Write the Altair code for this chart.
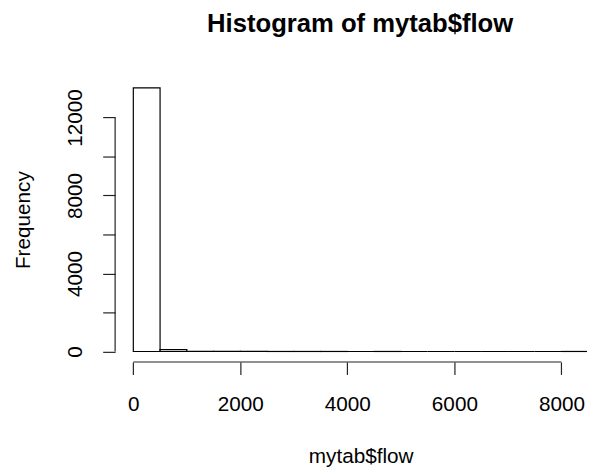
import altair as alt
import pandas as pd

# Histogram bins (width 500) and their counts
bin_starts = [0, 500, 1000, 1500, 2000, 2500, 3000, 3500, 4000, 4500, 5000,
              5500, 6000, 6500, 7000, 7500, 8000]
bin_width = 500
counts = [13512, 95, 5, 3, 2, 1, 1, 1, 0, 1, 0, 0, 0, 0, 0, 0, 1]

x_ticks = [0, 2000, 4000, 6000, 8000]
y_ticks = [0, 2000, 4000, 6000, 8000, 10000, 12000]
y_labeled_every = 4000

x_domain = [-340, 8478]
y_domain = [-540, 14040]

FONT = "Liberation Sans"
W, H = 478.4, 288.3

df = pd.DataFrame({
    "start": bin_starts,
    "end": [s + bin_width for s in bin_starts],
    "count": counts,
})

xs = alt.Scale(domain=x_domain, nice=False, zero=False)
ys = alt.Scale(domain=y_domain, nice=False, zero=False)

bars = alt.Chart(df).mark_rect(
    fill="white", stroke="black", strokeWidth=1.2, clip=True
).encode(
    x=alt.X("start:Q", scale=xs, axis=alt.Axis(
        values=x_ticks, format="d", domain=False, grid=False,
        tickSize=12.6, tickColor="#222", tickWidth=1.2,
        labelFont=FONT, labelFontSize=21, labelColor="black",
        labelBaseline="alphabetic", labelPadding=36.7, labelAngle=0,
        labelFlush=False, labelOverlap=False,
        title="mytab$flow", titleFont=FONT, titleFontSize=21,
        titleFontWeight="normal", titleColor="black",
        titleBaseline="alphabetic", titleAnchor="middle",
        titleX=249, titleY=102.3)),
    x2="end:Q",
    y=alt.Y("count:Q", scale=ys, axis=alt.Axis(
        values=y_ticks, format="d", domain=False, grid=False,
        tickSize=12.6, tickColor="#222", tickWidth=1.2,
        labelFont=FONT, labelFontSize=21, labelColor="black",
        labelAngle=270, labelAlign="center", labelBaseline="alphabetic",
        labelPadding=21, labelFlush=False, labelOverlap=False,
        labelExpr=f"datum.value % {y_labeled_every} == 0 ? datum.label : ''",
        title="Frequency", titleFont=FONT, titleFontSize=21,
        titleFontWeight="normal", titleColor="black",
        titleAngle=270, titleBaseline="alphabetic", titleAlign="center",
        titleX=-86.6, titleY=144)),
    y2=alt.datum(0),
)

x_axis_df = pd.DataFrame({"a": [x_ticks[0]], "b": [x_ticks[-1]], "base": [y_domain[0]]})
x_axis_line = alt.Chart(x_axis_df).mark_rule(color="#222", strokeWidth=1.2).encode(
    x=alt.X("a:Q", scale=xs), x2="b:Q", y=alt.Y("base:Q", scale=ys)
)
y_axis_df = pd.DataFrame({"a": [y_ticks[0]], "b": [y_ticks[-1]], "base": [x_domain[0]]})
y_axis_line = alt.Chart(y_axis_df).mark_rule(color="#222", strokeWidth=1.2).encode(
    y=alt.Y("a:Q", scale=ys), y2="b:Q", x=alt.X("base:Q", scale=xs)
)

chart = alt.layer(bars, x_axis_line, y_axis_line).properties(
    width=W, height=H,
    background="white",
    title=alt.TitleParams(
        "Histogram of mytab$flow", font=FONT, fontSize=26, fontWeight="bold",
        color="black", anchor="middle", frame="group", baseline="alphabetic",
        offset=20, dx=9.2),
    autosize=alt.AutoSizeParams(type="none"),
    padding={"left": 108.6, "top": 67.4, "right": 0, "bottom": 108},
).configure_view(stroke=None)

chart.save("out.html", embed_options={"renderer": "svg", "actions": False})
